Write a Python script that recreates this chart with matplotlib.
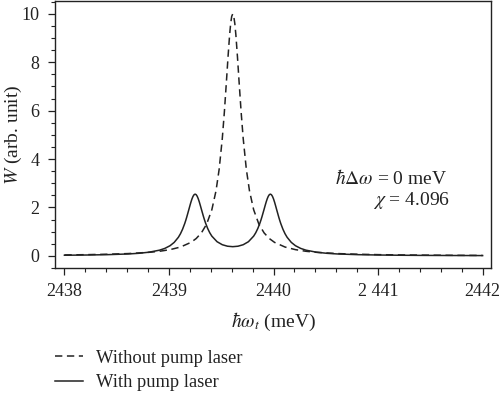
import matplotlib
matplotlib.use("Agg")
import matplotlib.pyplot as plt
from matplotlib.ticker import FixedLocator, MultipleLocator

plt.rcParams["font.family"] = ["Liberation Serif", "DejaVu Serif"]
plt.rcParams["mathtext.fontset"] = "stix"

# Without pump laser (dashed)
x_without = [2438.00, 2438.21, 2438.41, 2438.61, 2438.81, 2438.91, 2439.01, 2439.11,
             2439.21, 2439.26, 2439.31, 2439.36, 2439.41, 2439.45, 2439.48, 2439.51,
             2439.53, 2439.55, 2439.565, 2439.58, 2439.59, 2439.60, 2439.61, 2439.62,
             2439.63, 2439.64, 2439.655, 2439.67, 2439.69, 2439.71, 2439.74, 2439.77,
             2439.81, 2439.86, 2439.91, 2439.96, 2440.01, 2440.11, 2440.21, 2440.31,
             2440.41, 2440.61, 2440.81, 2441.01, 2441.21, 2441.41, 2441.71, 2442.00]
w_without = [0.036, 0.048, 0.065, 0.093, 0.145, 0.188, 0.255, 0.363,
             0.555, 0.713, 0.947, 1.308, 1.904, 2.688, 3.576, 4.848,
             5.952, 7.233, 8.229, 9.127, 9.592, 9.895, 10.0, 9.895,
             9.592, 9.127, 8.229, 7.233, 5.952, 4.848, 3.576, 2.688,
             1.904, 1.308, 0.947, 0.713, 0.555, 0.363, 0.255, 0.188,
             0.145, 0.093, 0.065, 0.048, 0.037, 0.029, 0.021, 0.016]

# With pump laser (solid)
x_with = [2438.00, 2438.21, 2438.41, 2438.61, 2438.71, 2438.81, 2438.91, 2438.96,
          2439.01, 2439.05, 2439.09, 2439.11, 2439.13, 2439.15, 2439.16, 2439.17,
          2439.19, 2439.20, 2439.21, 2439.22, 2439.23, 2439.24, 2439.25, 2439.26,
          2439.27, 2439.28, 2439.29, 2439.30, 2439.31, 2439.33, 2439.34, 2439.35,
          2439.37, 2439.39, 2439.41, 2439.46, 2439.51, 2439.56, 2439.61, 2439.66,
          2439.71, 2439.76, 2439.81, 2439.83, 2439.85, 2439.87, 2439.88, 2439.89,
          2439.91, 2439.92, 2439.93, 2439.94, 2439.95, 2439.96, 2439.97, 2439.98,
          2439.99, 2440.00, 2440.01, 2440.02, 2440.03, 2440.05, 2440.06, 2440.07,
          2440.09, 2440.11, 2440.13, 2440.17, 2440.21, 2440.26, 2440.31, 2440.41,
          2440.51, 2440.61, 2440.81, 2441.01, 2441.21, 2441.41, 2441.71, 2442.00]
w_with = [0.024, 0.033, 0.048, 0.077, 0.104, 0.150, 0.234, 0.306,
          0.417, 0.555, 0.766, 0.913, 1.098, 1.326, 1.457, 1.600,
          1.909, 2.067, 2.218, 2.351, 2.457, 2.525, 2.550, 2.528,
          2.462, 2.359, 2.229, 2.081, 1.926, 1.623, 1.483, 1.354,
          1.132, 0.954, 0.814, 0.583, 0.459, 0.397, 0.378, 0.397,
          0.459, 0.583, 0.814, 0.954, 1.132, 1.354, 1.483, 1.623,
          1.926, 2.081, 2.229, 2.359, 2.462, 2.528, 2.550, 2.525,
          2.457, 2.351, 2.218, 2.067, 1.909, 1.600, 1.457, 1.326,
          1.098, 0.913, 0.766, 0.555, 0.417, 0.306, 0.234, 0.150,
          0.104, 0.077, 0.048, 0.033, 0.024, 0.018, 0.013, 0.010]

x_ticks = [2438, 2439, 2440, 2441, 2442]
x_ticklabels = ["2438", "2439", "2440", "2 441", "2442"]
y_ticks = [0, 2, 4, 6, 8, 10]

ink = "#222222"
fs = 14

fig = plt.figure(figsize=(5.0, 3.94), dpi=100)
ax = fig.add_axes([0.11, 0.32, 0.872, 0.678])

ax.plot(x_without, w_without, color=ink, lw=1.1, ls=(0, (4.8, 3.0)),
        label="Without pump laser")
ax.plot(x_with, w_with, color=ink, lw=1.1, label="With pump laser")

ax.set_xlim(2437.91, 2442.08)
ax.set_ylim(-0.5, 10.54)
ax.xaxis.set_major_locator(FixedLocator(x_ticks))
ax.set_xticklabels(x_ticklabels)
ax.xaxis.set_minor_locator(MultipleLocator(0.2))
ax.yaxis.set_major_locator(FixedLocator(y_ticks))
ax.yaxis.set_minor_locator(MultipleLocator(0.5))
ax.tick_params(which="major", direction="out", length=5, width=0.9,
               labelsize=13, colors=ink, pad=6)
ax.tick_params(which="minor", direction="out", length=3, width=0.8, colors=ink)
for s in ax.spines.values():
    s.set_linewidth(1.0)
    s.set_color(ink)

ax.set_xlabel(r"$\hbar\omega_t$ (meV)", fontsize=fs, color=ink)
ax.xaxis.set_label_coords(0.5, -0.16)
ax.set_ylabel(r"$W$ (arb. unit)", fontsize=fs, color=ink)
ax.yaxis.set_label_coords(-0.07, 0.5)

ax.text(2440.59, 3.2, r"$\hbar\Delta\omega$ = 0 meV", fontsize=fs, color=ink, va="center")
ax.text(2440.95, 2.3, r"$\chi$ = 4.096", fontsize=fs, color=ink, va="center")

fig.legend(loc="upper left", bbox_to_anchor=(0.11, 0.112), frameon=False,
           fontsize=13.3, handlelength=1.5, handletextpad=0.7, labelspacing=0.4,
           borderaxespad=0, borderpad=0, labelcolor=ink)

fig.savefig("out.png", dpi=100)
